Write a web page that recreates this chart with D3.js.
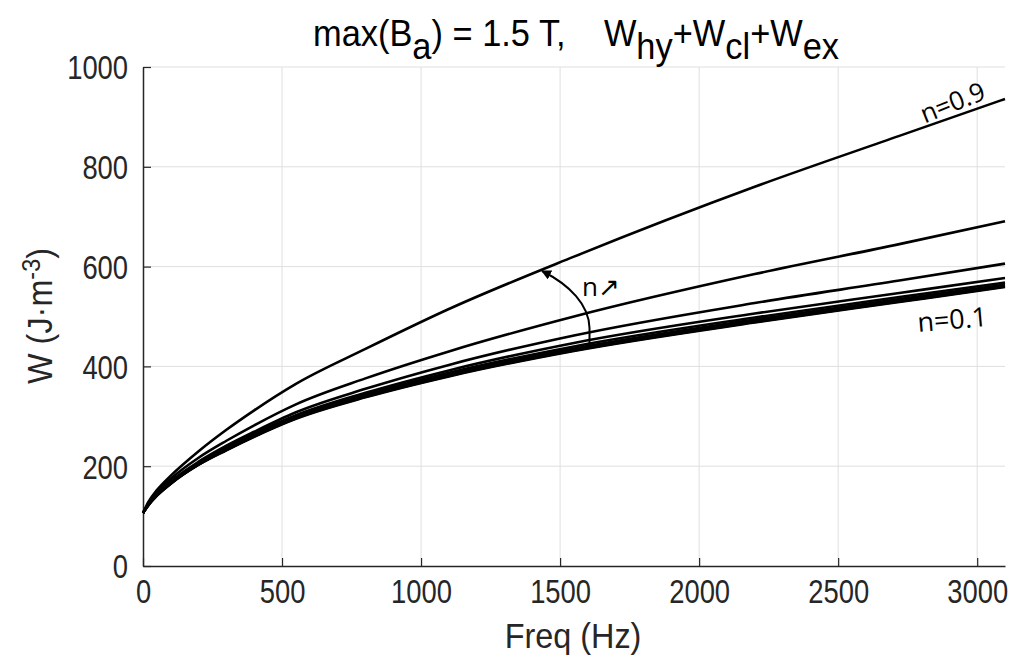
<!DOCTYPE html>
<html>
<head>
<meta charset="utf-8">
<script src="https://cdn.jsdelivr.net/npm/d3@7"></script>
<style>
  html, body { margin: 0; padding: 0; background: #fff; }
  svg { display: block; }
  .mf { font-family: "Liberation Sans", Arial, sans-serif; }
</style>
</head>
<body>
<svg id="chart" width="1014" height="661"></svg>
<script>
// ---- data ----
const freqs = [0, 20, 50, 100, 200, 300, 400, 550, 800, 1100, 1550, 2200, 2720, 3100];
const n09 = [106, 129, 152, 181, 230, 273, 312, 365, 435, 515, 620, 760, 862, 936];
const n08 = [106, 127, 148, 175, 217, 251, 282, 324, 376, 430, 500, 585, 645, 691];
const n07 = [106, 125, 145, 170, 209, 241, 269, 308, 355, 403, 462, 527, 572, 606];
const n06 = [106, 124, 143, 168, 206, 237, 265, 302, 347, 392, 447, 506, 547, 577];
const n05 = [106, 124, 143, 167, 205, 235, 262, 299, 343, 387, 440, 498, 539, 568];
const n04 = [106, 123, 142, 166, 204, 234, 261, 298, 341, 384, 436, 494, 535, 564];
const n03 = [106, 123, 142, 166, 204, 233, 260, 297, 340, 382, 434, 491, 532, 562];
const n02 = [106, 123, 141, 165, 203, 233, 260, 296, 339, 381, 432, 489, 530, 560];
const n01 = [106, 122, 141, 165, 203, 232, 259, 295, 338, 380, 431, 488, 529, 559];
const seriesList = [n01, n02, n03, n04, n05, n06, n07, n08, n09];
const xTicks = [0, 500, 1000, 1500, 2000, 2500, 3000];
const yTicks = [0, 200, 400, 600, 800, 1000];

// ---- layout ----
const svg = d3.select("#chart");
const x = d3.scaleLinear().domain([0, 3100]).range([143, 1005]);
const y = d3.scaleLinear().domain([0, 1000]).range([566, 67]);

// grid
svg.append("g").selectAll("line").data(xTicks.filter(d => d > 0)).join("line")
  .attr("x1", d => x(d)).attr("x2", d => x(d)).attr("y1", y(0)).attr("y2", y(1000))
  .attr("stroke", "#dfdfdf").attr("stroke-width", 1);
svg.append("g").selectAll("line").data(yTicks.filter(d => d > 0)).join("line")
  .attr("x1", x(0)).attr("x2", x(3100)).attr("y1", d => y(d)).attr("y2", d => y(d))
  .attr("stroke", "#dfdfdf").attr("stroke-width", 1);

// axes
const fmt = d3.format("d");
const xAxis = d3.axisBottom(x).tickValues(xTicks).tickFormat(fmt).tickSizeInner(-8).tickSizeOuter(0).tickPadding(14);
const yAxis = d3.axisLeft(y).tickValues(yTicks).tickFormat(fmt).tickSizeInner(-8).tickSizeOuter(0).tickPadding(12);
const gx = svg.append("g").attr("transform", `translate(0,${y(0)})`).call(xAxis);
const gy = svg.append("g").attr("transform", `translate(${x(0)},0)`).call(yAxis);
[gx, gy].forEach(g => {
  g.attr("font-family", null).attr("font-size", null).attr("class", "mf");
  g.select(".domain").attr("stroke", "#262626").attr("stroke-width", 1.5);
  g.selectAll(".tick line").attr("stroke", "#262626").attr("stroke-width", 1.2);
  g.selectAll(".tick text").attr("fill", "#262626").style("font-size", "33px")
    .attr("transform", "scale(0.83,1)");
});
gx.selectAll(".tick text").attr("dy", "0.71em");
gy.selectAll(".tick text").attr("dy", "0.36em").attr("x", -18);

// curves
const line = d3.line().x((d, i) => x(freqs[i])).y(d => y(d)).curve(d3.curveMonotoneX);
svg.append("g").selectAll("path").data(seriesList).join("path")
  .attr("d", d => line(d))
  .attr("fill", "none").attr("stroke", "#000").attr("stroke-width", 2.6)
  .attr("stroke-linejoin", "round");

// title
const title = svg.append("text").attr("class", "mf").attr("text-anchor", "middle")
  .attr("transform", "translate(576,46) scale(0.93,1)")
  .style("font-size", "37px").attr("fill", "#000");
title.append("tspan").text("max(B");
title.append("tspan").attr("dy", 13).text("a");
title.append("tspan").attr("dy", -13).text(") = 1.5 T,\u00A0\u00A0\u00A0\u00A0W");
title.append("tspan").attr("dy", 13).text("hy");
title.append("tspan").attr("dy", -13).text("+W");
title.append("tspan").attr("dy", 13).text("cl");
title.append("tspan").attr("dy", -13).text("+W");
title.append("tspan").attr("dy", 13).text("ex");

// axis labels
svg.append("text").attr("class", "mf").attr("transform", "translate(573,648) scale(0.9,1)")
  .attr("text-anchor", "middle")
  .style("font-size", "36px").attr("fill", "#262626").text("Freq (Hz)");
const yl = svg.append("text").attr("class", "mf").attr("transform", "translate(52,316) rotate(-90) scale(0.9,1)")
  .attr("text-anchor", "middle").style("font-size", "36px").attr("fill", "#262626");
yl.append("tspan").text("W (J\u00B7m");
yl.append("tspan").attr("dy", -12).style("font-size", "26px").text("-3");
yl.append("tspan").attr("dy", 12).text(")");

// annotations
const annFont = "'Open Sans', 'Noto Sans', sans-serif";
svg.append("text").attr("transform", "translate(956,111) rotate(-22)")
  .attr("text-anchor", "middle").attr("font-family", annFont).attr("font-size", 26)
  .attr("fill", "#000").text("n=0.9");
svg.append("text").attr("transform", "translate(953,329) rotate(-5)")
  .attr("text-anchor", "middle").attr("font-family", annFont).attr("font-size", 27)
  .attr("fill", "#000").text("n=0.1");
svg.append("text").attr("x", 582).attr("y", 296)
  .attr("font-family", annFont).attr("font-size", 26).attr("fill", "#000").text("n\u2197");

// curved arrow
svg.append("defs").append("marker").attr("id", "ah").attr("viewBox", "0 0 10 10")
  .attr("refX", 9).attr("refY", 5).attr("markerWidth", 5).attr("markerHeight", 5)
  .attr("orient", "auto").append("path").attr("d", "M0,0 L10,5 L0,10 Z").attr("fill", "#000");
svg.append("path").attr("d", "M589.5,347 L589.5,328 C589,305 570,285 542,271")
  .attr("fill", "none").attr("stroke", "#000").attr("stroke-width", 2)
  .attr("marker-end", "url(#ah)");
</script>
</body>
</html>
